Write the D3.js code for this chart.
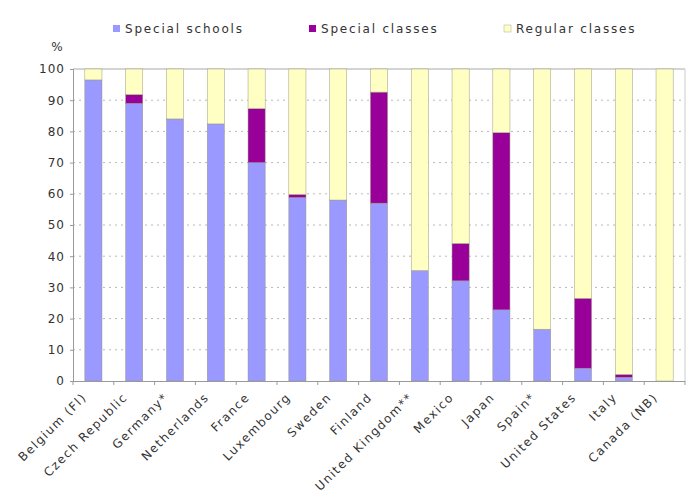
<!DOCTYPE html>
<html>
<head>
<meta charset="utf-8">
<script src="https://cdn.jsdelivr.net/npm/d3@7"></script>
<style>
  html, body { margin: 0; padding: 0; background: #fff; }
  svg text { font-family: "DejaVu Sans", Verdana, sans-serif; fill: #333; }
</style>
</head>
<body>
<svg id="chart" width="692" height="494"></svg>
<script>
const categories = ["Belgium (Fl)", "Czech Republic", "Germany*", "Netherlands", "France",
  "Luxembourg", "Sweden", "Finland", "United Kingdom**", "Mexico", "Japan", "Spain*",
  "United States", "Italy", "Canada (NB)"];
const specialSchools = [96.5, 89.0, 84.0, 82.4, 70.0, 58.8, 58.0, 57.0, 35.4, 32.1, 22.8, 16.6, 4.1, 1.2, 0];
const specialClasses = [0, 2.8, 0, 0, 17.3, 1.0, 0, 35.6, 0, 12.0, 56.8, 0, 22.4, 0.9, 0];
const regularClasses = categories.map((c, i) => 100 - specialSchools[i] - specialClasses[i]);
const seriesNames = ["Special schools", "Special classes", "Regular classes"];
const seriesColors = ["#9999FF", "#990099", "#FFFFC4"];
const yTicks = [0, 10, 20, 30, 40, 50, 60, 70, 80, 90, 100];

const svg = d3.select("#chart");
const mLeft = 73, mRight = 685, mTop = 69, mBottom = 381;

const x = d3.scaleBand().domain(categories).range([mLeft, mRight]).paddingInner(0.58).paddingOuter(0.29);
const y = d3.scaleLinear().domain([0, 100]).range([mBottom, mTop]);

// gridlines
svg.append("g").selectAll("line").data(yTicks.filter(t => t > 0 && t < 100)).join("line")
  .attr("x1", mLeft).attr("x2", mRight)
  .attr("y1", d => y(d)).attr("y2", d => y(d))
  .attr("stroke", "#b8b8b8").attr("stroke-width", 1).attr("stroke-dasharray", "2,4");

// plot border top/right
svg.append("line").attr("x1", mLeft).attr("x2", mRight).attr("y1", y(100)).attr("y2", y(100))
  .attr("stroke", "#aaa");
svg.append("line").attr("x1", mRight).attr("x2", mRight).attr("y1", y(100)).attr("y2", y(0))
  .attr("stroke", "#ccc");

// stacked data
const rows = categories.map((c, i) => ({cat: c, s0: specialSchools[i], s1: specialClasses[i], s2: regularClasses[i]}));
const stack = d3.stack().keys(["s0", "s1", "s2"])(rows);

svg.append("g").selectAll("g").data(stack).join("g")
  .attr("fill", (d, i) => seriesColors[i])
  .selectAll("rect").data(d => d.filter(p => p[1] - p[0] > 0)).join("rect")
  .attr("x", d => x(d.data.cat))
  .attr("width", x.bandwidth())
  .attr("y", d => y(d[1]))
  .attr("height", d => y(d[0]) - y(d[1]))
  .attr("stroke", "#9a9a80").attr("stroke-width", 0.5);

// y axis
const yAxis = d3.axisLeft(y).tickValues(yTicks).tickSize(3).tickFormat(d3.format("d"));
const gy = svg.append("g").attr("transform", `translate(${mLeft},0)`).call(yAxis);
gy.select(".domain").attr("stroke", "#999");
gy.selectAll(".tick line").attr("stroke", "#999");
gy.selectAll(".tick text").attr("font-size", 12).attr("letter-spacing", "1px")
  .attr("x", -8).attr("fill", "#333").style("font-family", "DejaVu Sans");

// x axis
const step = x.step();
const gx = svg.append("g");
gx.append("line").attr("x1", mLeft).attr("x2", mRight).attr("y1", mBottom + 0.5).attr("y2", mBottom + 0.5)
  .attr("stroke", "#999");
gx.selectAll("line.tk").data(d3.range(categories.length + 1)).join("line").attr("class", "tk")
  .attr("x1", i => mLeft + i * step).attr("x2", i => mLeft + i * step)
  .attr("y1", mBottom).attr("y2", mBottom + 4).attr("stroke", "#999");
gx.selectAll("text").data(categories).join("text")
  .attr("transform", d => `translate(${x(d) + x.bandwidth() / 2 - 6},${mBottom + 17}) rotate(-45)`)
  .attr("text-anchor", "end")
  .attr("font-size", 12).attr("letter-spacing", "1.5px")
  .text(d => d);

// % label
svg.append("text").attr("x", 57).attr("y", 51).attr("text-anchor", "middle")
  .attr("font-size", 12).text("%");

// legend
const legendX = [113, 309, 504];
const lg = svg.append("g");
seriesNames.forEach((n, i) => {
  lg.append("rect").attr("x", legendX[i]).attr("y", 25).attr("width", 7).attr("height", 7)
    .attr("fill", seriesColors[i]).attr("stroke", i === 2 ? "#aaa" : "none").attr("stroke-width", 0.5);
  lg.append("text").attr("x", legendX[i] + 12).attr("y", 33).attr("font-size", 12)
    .attr("letter-spacing", "1.8px").text(n);
});
</script>
</body>
</html>
